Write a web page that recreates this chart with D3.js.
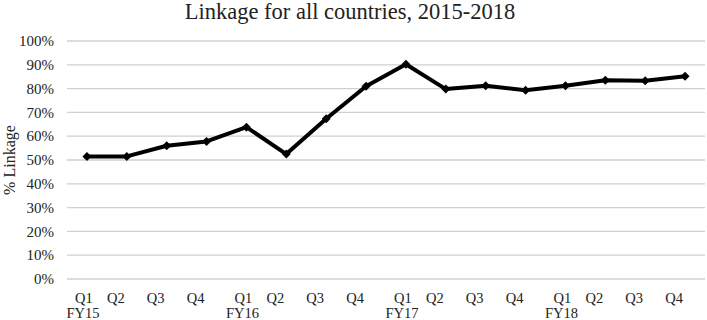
<!DOCTYPE html>
<html>
<head>
<meta charset="utf-8">
<script src="https://cdn.jsdelivr.net/npm/d3@7"></script>
<style>
  html, body { margin: 0; padding: 0; background: #fff; }
  svg { display: block; font-family: "Liberation Serif", "Times New Roman", serif; }
</style>
</head>
<body>
<svg id="chart" width="707" height="320"></svg>
<script>
const title = "Linkage for all countries, 2015-2018";
const yTitle = "% Linkage";
const quarters = ["Q1","Q2","Q3","Q4","Q1","Q2","Q3","Q4","Q1","Q2","Q3","Q4","Q1","Q2","Q3","Q4"];
const fiscalYears = ["FY15","","","","FY16","","","","FY17","","","","FY18","","",""];
const linkage = [51.5, 51.5, 56.0, 57.8, 63.8, 52.5, 67.3, 81.0, 90.2, 79.8, 81.2, 79.3, 81.2, 83.5, 83.3, 85.2];
const yTicks = [0, 10, 20, 30, 40, 50, 60, 70, 80, 90, 100];

const W = 707, H = 320;
const margin = { top: 41, right: 2, bottom: 41, left: 67 };
const svg = d3.select("#chart");

const idx = d3.range(linkage.length);
const x = d3.scaleBand().domain(idx).range([margin.left, W - margin.right]);
const y = d3.scaleLinear().domain([0, 100]).range([H - margin.bottom, margin.top]);
const cx = i => x(i) + x.bandwidth() / 2;

// gridlines
svg.append("g").selectAll("line").data(yTicks).join("line")
  .attr("x1", margin.left).attr("x2", W - margin.right)
  .attr("y1", d => y(d)).attr("y2", d => y(d))
  .attr("stroke", "#d0d0d0").attr("stroke-width", 1.3);

// y tick labels
svg.append("g").selectAll("text").data(yTicks).join("text")
  .attr("x", 54).attr("y", d => y(d)).attr("dy", "0.35em")
  .attr("text-anchor", "end").attr("font-size", 15).attr("fill", "#222")
  .text(d => d + "%");

// y axis title
svg.append("text")
  .attr("transform", `translate(15,${(margin.top + H - margin.bottom) / 2}) rotate(-90)`)
  .attr("text-anchor", "middle").attr("font-size", 16).attr("fill", "#222")
  .text(yTitle);

// title
svg.append("text")
  .attr("x", 350).attr("y", 19)
  .attr("text-anchor", "middle").attr("font-size", 22.5).attr("fill", "#222")
  .text(title);

// x labels (quarters)
svg.append("g").selectAll("text").data(idx).join("text")
  .attr("x", i => cx(i) + (quarters[i] === "Q1" ? -3 : -11))
  .attr("y", 303)
  .attr("text-anchor", "middle").attr("font-size", 14.5).attr("fill", "#222")
  .text(i => quarters[i]);

// fiscal year labels
svg.append("g").selectAll("text").data(idx.filter(i => fiscalYears[i])).join("text")
  .attr("x", i => cx(i) - 4)
  .attr("y", 318)
  .attr("text-anchor", "middle").attr("font-size", 14.5).attr("fill", "#222")
  .text(i => fiscalYears[i]);

// line
svg.append("path")
  .datum(idx)
  .attr("fill", "none").attr("stroke", "#000").attr("stroke-width", 4)
  .attr("stroke-linejoin", "round")
  .attr("d", d3.line().x(i => cx(i)).y(i => y(linkage[i])));

// markers
const diamond = d3.symbol().type(d3.symbolSquare).size(40);
svg.append("g").selectAll("path").data(idx).join("path")
  .attr("transform", i => `translate(${cx(i)},${y(linkage[i])}) rotate(45)`)
  .attr("d", diamond).attr("fill", "#000");
</script>
</body>
</html>
